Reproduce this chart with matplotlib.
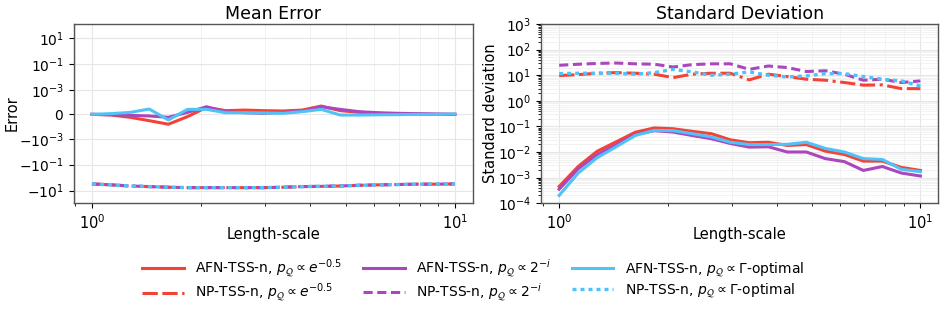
import numpy as np
import matplotlib
matplotlib.use("Agg")
import matplotlib.pyplot as plt
from matplotlib.ticker import FixedLocator, FixedFormatter, NullLocator

# Length-scale grid (20 log-spaced points between 1 and 10)
length_scale = np.logspace(0, 1, 20)

# Mean error, AFN variants (close to zero)
mean_afn_exp = [0, -6e-6, -2.6e-5, -5.5e-5, -8.6e-5, -2e-5, 6e-5, 3.2e-5, 3.7e-5, 3.2e-5,
                2.9e-5, 3.7e-5, 7.2e-5, 3.2e-5, 1.7e-5, 9e-6, 3e-6, 3e-6, 0, 0]
mean_afn_pow = [0, -3e-6, -9e-6, -1.4e-5, -2.6e-5, 1.7e-5, 6.6e-5, 2.3e-5, 1.4e-5, 9e-6,
                1.7e-5, 2.6e-5, 6.6e-5, 4.3e-5, 2.3e-5, 1.4e-5, 9e-6, 6e-6, 3e-6, 0]
mean_afn_gam = [0, 6e-6, 1.7e-5, 4.6e-5, -4.9e-5, 4.3e-5, 4.3e-5, 1.4e-5, 1.4e-5, 1.2e-5,
                9e-6, 2.3e-5, 4.3e-5, -6e-6, -6e-6, -4e-6, -3e-6, 0, 0, 3e-6]

# Mean error, NP variants (all three overlap)
mean_np = [-3.05, -3.6, -4.4, -4.9, -5.5, -5.9, -5.9, -5.9, -5.9, -5.9,
           -5.5, -4.9, -4.7, -4.4, -3.9, -3.6, -3.4, -3.2, -3.2, -3.05]

# Standard deviation, AFN variants
std_afn_exp = [4.5e-4, 2.7e-3, 0.0107, 0.025, 0.059, 0.087, 0.081, 0.064, 0.052, 0.030,
               0.023, 0.024, 0.018, 0.0195, 0.0108, 0.008, 0.0044, 0.0044, 0.0025, 0.0019]
std_afn_pow = [3.5e-4, 2.2e-3, 0.008, 0.019, 0.048, 0.068, 0.06, 0.044, 0.033, 0.0215,
               0.0155, 0.016, 0.01, 0.01, 0.0055, 0.0042, 0.0019, 0.0027, 0.0015, 0.00115]
std_afn_gam = [2.0e-4, 1.5e-3, 0.006, 0.016, 0.044, 0.07, 0.068, 0.052, 0.039, 0.024,
               0.0195, 0.0195, 0.02, 0.024, 0.0138, 0.01, 0.0055, 0.0051, 0.0021, 0.0017]

# Standard deviation, NP variants
std_np_exp = [9.7, 10.6, 12, 12.7, 12, 11, 8.1, 11, 12, 12,
              6.6, 11, 8.9, 7, 6.4, 5.2, 4.1, 4.2, 3.0, 3.0]
std_np_pow = [24.5, 27, 29, 30, 28, 27, 21, 26, 28, 28,
              17, 23, 20, 14, 15, 11, 6.4, 7, 5.2, 6.0]
std_np_gam = [11.6, 12, 12, 12, 11, 12.7, 17, 13.5, 10, 11,
              13.5, 10, 8.6, 9.4, 11.6, 11.6, 8.9, 7, 6.0, 3.8]

labels = [
    r"AFN-TSS-n, $p_{\mathcal{Q}} \propto e^{-0.5}$",
    r"NP-TSS-n, $p_{\mathcal{Q}} \propto e^{-0.5}$",
    r"AFN-TSS-n, $p_{\mathcal{Q}} \propto 2^{-i}$",
    r"NP-TSS-n, $p_{\mathcal{Q}} \propto 2^{-i}$",
    r"AFN-TSS-n, $p_{\mathcal{Q}} \propto \Gamma$-optimal",
    r"NP-TSS-n, $p_{\mathcal{Q}} \propto \Gamma$-optimal",
]

RED = "#F44336"
PURPLE = "#AB47BC"
BLUE = "#4FC3F7"

styles = [
    dict(color=RED, ls="-", lw=2.2),
    dict(color=RED, ls=(0, (5, 1.5, 5, 1.5, 1, 1.5)), lw=2.2),
    dict(color=PURPLE, ls="-", lw=2.2),
    dict(color=PURPLE, ls=(0, (3, 1.5)), lw=2.2),
    dict(color=BLUE, ls="-", lw=2.2),
    dict(color=BLUE, ls=(0, (1.2, 1.2)), lw=2.4),
]

fig = plt.figure(figsize=(9.46, 3.13), dpi=100)
ax1 = fig.add_axes([0.078, 0.351, 0.422, 0.572])
ax2 = fig.add_axes([0.572, 0.351, 0.420, 0.572])

mean_series = [mean_afn_exp, mean_np, mean_afn_pow, mean_np, mean_afn_gam, mean_np]
std_series = [std_afn_exp, std_np_exp, std_afn_pow, std_np_pow, std_afn_gam, std_np_gam]

handles = []
for ys, st, lab in zip(mean_series, styles, labels):
    h, = ax1.plot(length_scale, ys, label=lab, **st)
    handles.append(h)
for ys, st in zip(std_series, styles):
    ax2.plot(length_scale, ys, **st)

# Left panel: symlog y
ax1.set_xscale("log")
ax1.set_yscale("symlog", linthresh=1e-4, linscale=0.8)
ax1.set_ylim(-93, 120)
yt = [10, 1e-1, 1e-3, 0, -1e-3, -1e-1, -10]
ytl = [r"$10^{1}$", r"$10^{-1}$", r"$10^{-3}$", r"$0$",
       r"$-10^{-3}$", r"$-10^{-1}$", r"$-10^{1}$"]
ax1.yaxis.set_major_locator(FixedLocator(yt))
ax1.yaxis.set_major_formatter(FixedFormatter(ytl))
ax1.yaxis.set_minor_locator(NullLocator())
ax1.set_title("Mean Error", fontsize=12.5, pad=4)
ax1.set_ylabel("Error", fontsize=10.5, labelpad=0)
ax1.set_xlabel("Length-scale", fontsize=10.5, labelpad=-3)

# Right panel: log y
ax2.set_xscale("log")
ax2.set_yscale("log")
ax2.set_ylim(1e-4, 1e3)
ax2.set_yticks([1e-4, 1e-3, 1e-2, 1e-1, 1, 10, 100, 1000])
ax2.set_title("Standard Deviation", fontsize=12.5, pad=4)
ax2.set_ylabel("Standard deviation", fontsize=10.5, labelpad=0)
ax2.set_xlabel("Length-scale", fontsize=10.5, labelpad=-3)

for ax in (ax1, ax2):
    ax.grid(True, which="major", color="#e6e6e6", lw=0.8)
    ax.grid(True, which="minor", color="#f0f0f0", lw=0.6)
    ax.tick_params(axis="y", labelsize=10)
    ax.tick_params(axis="x", labelsize=10.5)
    for sp in ax.spines.values():
        sp.set_color("#555555")
        sp.set_linewidth(1.0)
    ax.set_axisbelow(True)

fig.legend(handles=handles, loc="lower center", ncol=3, frameon=False,
           fontsize=10, bbox_to_anchor=(0.5, -0.012), handlelength=3.0,
           columnspacing=1.5, labelspacing=0.15)

fig.savefig("out.png", dpi=100, facecolor="white")
